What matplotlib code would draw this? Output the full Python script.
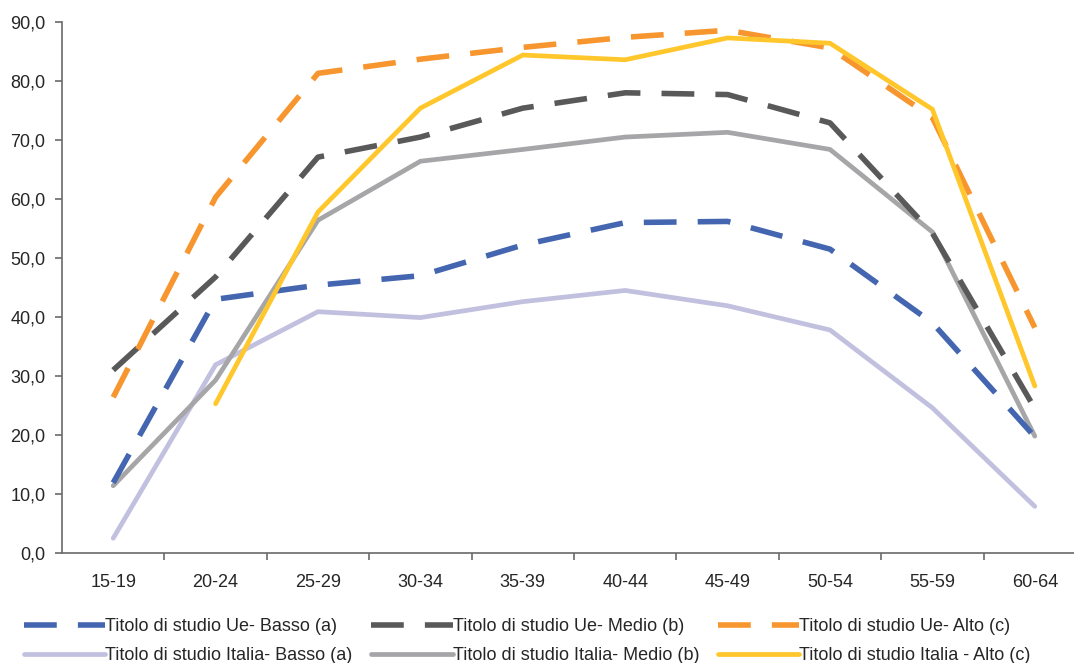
import numpy as np
import matplotlib
matplotlib.use("Agg")
import matplotlib.pyplot as plt

plt.rcParams['font.family'] = ['Liberation Sans', 'DejaVu Sans']

# Age classes
categories = ["15-19", "20-24", "25-29", "30-34", "35-39",
              "40-44", "45-49", "50-54", "55-59", "60-64"]

# Employment rates by education level, EU and Italy
ue_basso = [11.9, 43.0, 45.4, 47.0, 52.2, 56.0, 56.2, 51.5, 39.0, 19.7]
ue_medio = [31.0, 46.8, 67.1, 70.5, 75.4, 78.0, 77.7, 72.9, 54.2, 24.5]
ue_alto = [26.4, 60.3, 81.3, 83.7, 85.7, 87.4, 88.6, 85.6, 73.8, 38.2]
it_basso = [2.5, 31.9, 40.9, 39.9, 42.6, 44.5, 41.9, 37.8, 24.6, 7.9]
it_medio = [11.4, 29.3, 56.4, 66.4, 68.4, 70.5, 71.3, 68.4, 54.4, 19.8]
it_alto = [np.nan, 25.3, 57.8, 75.4, 84.4, 83.6, 87.3, 86.4, 75.2, 28.3]

labels = [
    "Titolo di studio Ue- Basso (a)",
    "Titolo di studio Ue- Medio (b)",
    "Titolo di studio Ue- Alto (c)",
    "Titolo di studio Italia- Basso (a)",
    "Titolo di studio Italia- Medio (b)",
    "Titolo di studio Italia - Alto (c)",
]

W, H = 1074, 663
fig = plt.figure(figsize=(W / 100, H / 100), dpi=100)
ax = fig.add_axes([62 / W, 1 - 553 / H, (W - 62) / W, (553 - 22) / H])

x = np.arange(len(categories))
lw_d = 4.0
dash = (5.9, 3.8)
lw_s = 3.4

series = [
    (it_basso, "#C2C0DF", "-", lw_s, labels[3]),
    (it_medio, "#A6A6A8", "-", lw_s, labels[4]),
    (ue_basso, "#4466B0", "--", lw_d, labels[0]),
    (ue_medio, "#595959", "--", lw_d, labels[1]),
    (ue_alto, "#F7962F", "--", lw_d, labels[2]),
    (it_alto, "#FFC72C", "-", lw_s, labels[5]),
]

handles = {}
for vals, col, ls, lw, lab in series:
    if ls == "--":
        ln, = ax.plot(x, vals, color=col, lw=lw, dashes=dash,
                      dash_capstyle="butt", label=lab)
    else:
        ln, = ax.plot(x, vals, color=col, lw=lw, solid_capstyle="round",
                      solid_joinstyle="miter", label=lab)
    handles[lab] = ln

ax.set_xlim(-0.5, -0.5 + (W - 62) / 102.4)
ax.set_ylim(0, 90)
ax.set_yticks(np.arange(0, 91, 10))
ax.set_yticklabels([f"{v:.1f}".replace(".", ",") for v in np.arange(0, 91, 10)])
ax.set_xticks(x)
ax.set_xticklabels(categories)
ax.set_xticks(np.arange(0.5, 9, 1), minor=True)

for s in ["top", "right"]:
    ax.spines[s].set_visible(False)
for s in ["left", "bottom"]:
    ax.spines[s].set_color("#6a6a6a")
    ax.spines[s].set_linewidth(1.2)

ax.tick_params(axis="y", which="major", length=5, width=1.2, color="#6a6a6a",
               labelsize=13, labelcolor="#262626", pad=7)
ax.tick_params(axis="x", which="major", length=0, labelsize=13,
               labelcolor="#262626", pad=15)
ax.tick_params(axis="x", which="minor", length=5, width=1.2, color="#6a6a6a")

order = [labels[0], labels[3], labels[1], labels[4], labels[2], labels[5]]
fig.legend([handles[l] for l in order], order, loc="upper left",
           bbox_to_anchor=(24 / W, 1 - 618 / H), ncol=3, frameon=False,
           fontsize=13, handlelength=4.5, handletextpad=0.0,
           columnspacing=1.05, labelspacing=0.68, borderpad=0,
           borderaxespad=0, labelcolor="#262626")

fig.savefig("out.png", dpi=100)
